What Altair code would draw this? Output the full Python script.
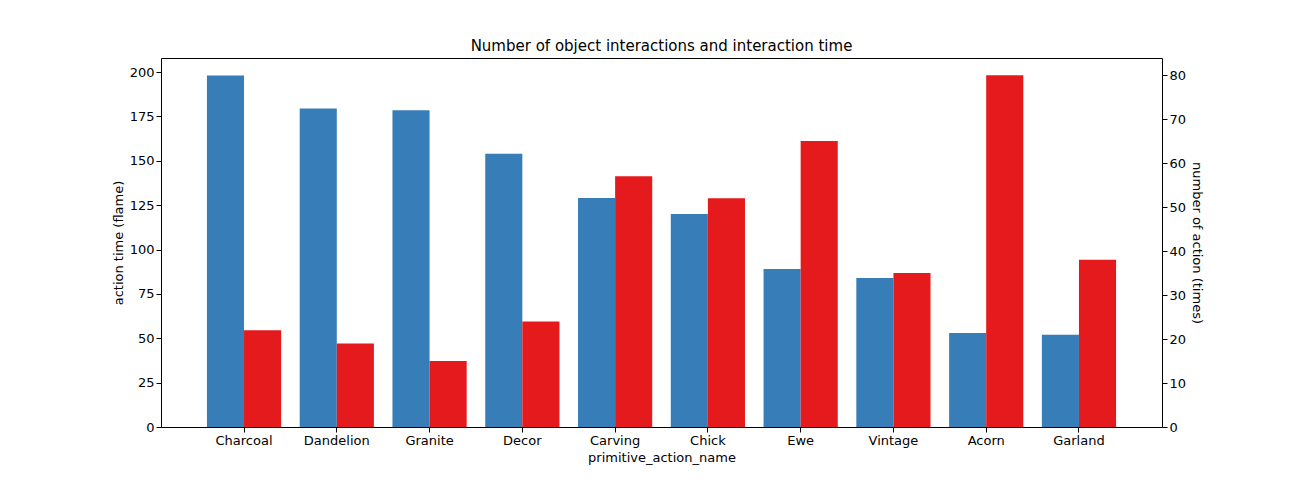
import pandas as pd
import altair as alt

names = ["Charcoal", "Dandelion", "Granite", "Decor", "Carving",
         "Chick", "Ewe", "Vintage", "Acorn", "Garland"]
action_time = [198, 179.5, 178.5, 154, 129, 120, 89, 84, 53, 52]
action_count = [22, 19, 15, 24, 57, 52, 65, 35, 80, 38]

df = pd.DataFrame({"primitive_action_name": names,
                   "time": action_time, "count": action_count})

font = "DejaVu Sans"
xenc = alt.X("primitive_action_name:N", sort=names, title="primitive_action_name",
             scale=alt.Scale(paddingInner=0, paddingOuter=0.395),
             axis=alt.Axis(labelAngle=0, labelFontSize=13, titleFontSize=13,
                           labelColor="black", titleColor="black", tickColor="black",
                           domain=False, titleFontWeight="normal", labelFont=font, titleFont=font))

blue = alt.Chart(df).mark_bar(color="#377eb8", width=37.1, xOffset=-18.55).encode(
    x=xenc,
    y=alt.Y("time:Q", title="action time (flame)",
            scale=alt.Scale(domain=[0, 207.9], nice=False),
            axis=alt.Axis(values=list(range(0, 201, 25)), grid=False, domain=False,
                          labelFontSize=13, titleFontSize=13, labelColor="black",
                          titleColor="black", tickColor="black", titleFontWeight="normal",
                          labelFont=font, titleFont=font)),
)
red = alt.Chart(df).mark_bar(color="#e41a1c", width=37.1, xOffset=18.55).encode(
    x=xenc,
    y=alt.Y("count:Q", title="number of action (times)",
            scale=alt.Scale(domain=[0, 83.9], nice=False),
            axis=alt.Axis(orient="right", values=list(range(0, 81, 10)), grid=False,
                          domain=False, labelFontSize=13, titleFontSize=13,
                          labelColor="black", titleColor="black", tickColor="black",
                          titleFontWeight="normal", labelFont=font, titleFont=font)),
)

chart = alt.layer(blue, red).resolve_scale(y="independent").properties(
    width=1001, height=369,
    title=alt.TitleParams("Number of object interactions and interaction time",
                          fontSize=15, fontWeight="normal", font=font, color="black"),
    autosize=alt.AutoSizeParams(type="none"),
    padding={"left": 153, "top": 50, "right": 120, "bottom": 45},
).configure_view(stroke="black", strokeWidth=1)

chart.save("out.html", embed_options={"renderer": "svg", "actions": False})
